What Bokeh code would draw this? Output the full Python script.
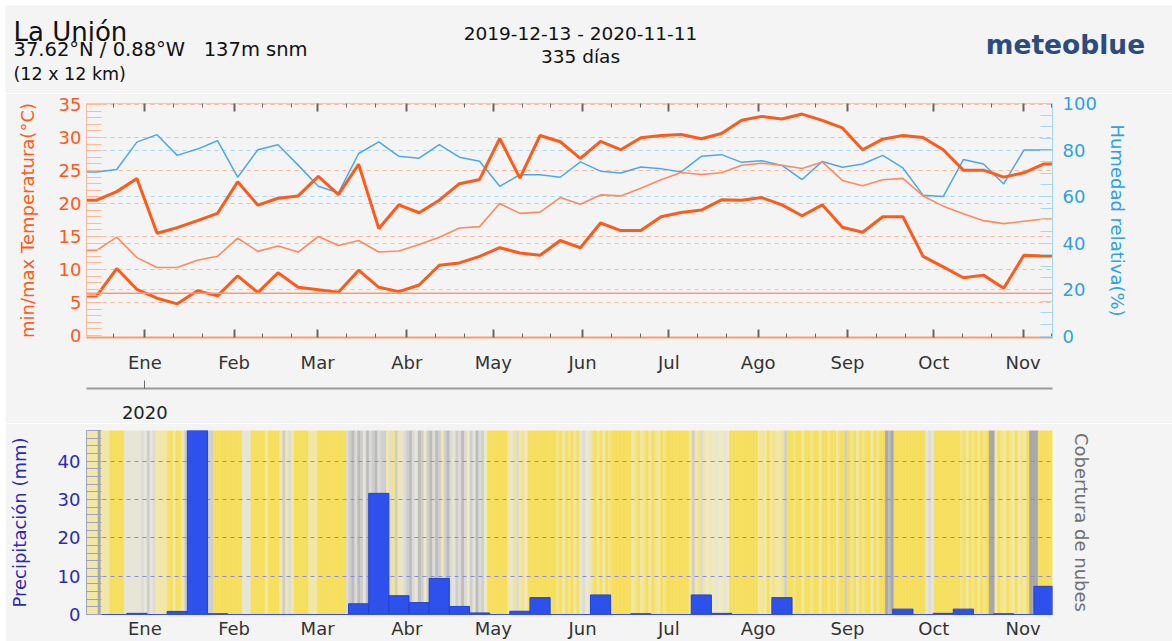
import numpy as np
import pandas as pd
from bokeh.plotting import figure
from bokeh.layouts import column
from bokeh.models import Range1d, LinearAxis, FixedTicker, Span, Grid, ColumnDataSource
from bokeh.embed import file_html
from bokeh.resources import INLINE
from bokeh.core.properties import value

# ---------------- data ----------------
start_date = "2019-12-13"
end_date = "2020-11-11"
first_week_center = "2019-12-15 06:00"

temp_max = [20.5, 21.8, 23.8, 15.5, 16.35, 17.4, 18.5, 23.3, 19.75, 20.8,
            21.15, 24.1, 21.35, 25.95, 16.2, 19.8, 18.6, 20.5, 23.0, 23.65,
            29.85, 23.85, 30.3, 29.35, 26.85, 29.4, 28.15, 29.95, 30.3, 30.45,
            29.8, 30.6, 32.6, 33.2, 32.8, 33.55, 32.6, 31.45, 28.15, 29.75,
            30.3, 30.0, 28.15, 25.05, 25.05, 24.0, 24.65, 26.0]
temp_mean = [12.9, 14.9, 11.8, 10.3, 10.3, 11.4, 12.0, 14.75, 12.75, 13.55,
             12.65, 15.0, 13.65, 14.4, 12.65, 12.8, 13.8, 14.9, 16.3, 16.5,
             20.0, 18.5, 18.7, 20.9, 19.9, 21.3, 21.15, 22.3, 23.6, 24.7,
             24.4, 24.65, 25.8, 26.1, 25.8, 25.3, 26.3, 23.5, 22.7, 23.6,
             23.8, 21.15, 19.6, 18.45, 17.4, 16.95, 17.3, 17.65]
temp_min = [6.0, 10.15, 7.0, 5.65, 4.8, 6.8, 6.0, 9.05, 6.5, 9.5,
            7.3, 6.95, 6.55, 9.9, 7.3, 6.65, 7.65, 10.65, 11.0, 12.0,
            13.3, 12.5, 12.15, 14.4, 13.3, 17.05, 15.9, 15.9, 18.0, 18.65,
            19.0, 20.55, 20.5, 20.9, 19.8, 18.15, 19.8, 16.4, 15.65, 18.0,
            18.0, 12.0, 10.4, 8.75, 9.15, 7.15, 12.15, 12.05]
humidity = [70.6, 71.6, 83.4, 86.6, 77.7, 80.4, 84.0, 68.3, 80.1, 82.3,
            73.5, 64.4, 61.6, 78.5, 83.5, 77.3, 76.5, 82.3, 76.9, 75.2,
            64.4, 69.4, 69.4, 68.3, 74.9, 70.9, 70.1, 72.7, 72.0, 70.6,
            77.3, 78.0, 74.7, 75.4, 73.4, 67.3, 75.1, 72.6, 74.0, 77.7,
            72.3, 60.6, 60.0, 75.9, 74.0, 65.4, 80.0, 80.0]
precip = [0, 0, 0.3, 0, 0.8, 49.0, 0.2, 0, 0, 0,
          0, 0, 0, 2.8, 31.6, 4.9, 3.1, 9.4, 2.1, 0.4,
          0, 0.85, 4.4, 0, 0, 5.1, 0, 0.2, 0, 0,
          5.1, 0.3, 0, 0, 4.4, 0, 0, 0, 0, 0,
          1.4, 0, 0.3, 1.4, 0, 0.2, 0, 7.35]
cloud_cover = [30, 30, 30, 30, 90, 30, 30, 30, 5, 5,
               5, 5, 5, 50, 50, 50, 50, 50, 50, 60,
               50, 70, 50, 60, 30, 30, 30, 30, 10, 5,
               30, 5, 10, 30, 70, 70, 80, 70, 70, 60,
               70, 70, 70, 70, 5, 5, 5, 5, 5, 5,
               5, 5, 5, 5, 50, 50, 50, 5, 5, 5,
               5, 5, 30, 5, 5, 5, 5, 30, 70, 30,
               60, 30, 5, 5, 5, 5, 5, 30, 30, 30,
               5, 5, 5, 5, 5, 5, 5, 5, 5, 5,
               60, 70, 80, 60, 80, 70, 50, 80, 60, 70,
               80, 60, 70, 70, 30, 60, 20, 70, 30, 50,
               60, 70, 80, 60, 50, 80, 70, 40, 70, 80,
               60, 80, 70, 30, 70, 80, 60, 50, 70, 60,
               80, 60, 40, 70, 50, 80, 60, 70, 40, 5,
               5, 5, 5, 5, 5, 5, 30, 50, 20, 60,
               30, 20, 40, 5, 5, 5, 5, 5, 5, 5,
               5, 5, 5, 20, 5, 30, 5, 20, 5, 30,
               5, 50, 60, 40, 50, 20, 5, 30, 5, 30,
               5, 20, 5, 5, 5, 5, 5, 5, 5, 30,
               20, 5, 30, 20, 5, 30, 5, 20, 30, 5,
               20, 5, 5, 5, 5, 5, 5, 5, 5, 30,
               70, 30, 20, 60, 30, 40, 30, 40, 50, 40,
               40, 50, 40, 5, 5, 5, 5, 5, 5, 5,
               5, 5, 5, 30, 20, 30, 5, 30, 20, 30,
               30, 20, 70, 5, 5, 20, 5, 5, 30, 5,
               5, 20, 5, 5, 30, 5, 5, 20, 5, 5,
               30, 5, 5, 70, 5, 20, 5, 30, 5, 20,
               5, 5, 30, 5, 20, 5, 5, 90, 80, 90,
               5, 5, 5, 5, 5, 5, 5, 5, 5, 5,
               5, 50, 60, 50, 5, 5, 5, 5, 5, 5,
               5, 5, 5, 20, 5, 30, 5, 20, 5, 30,
               5, 20, 5, 90, 90, 30, 5, 20, 30, 5,
               20, 30, 5, 30, 20, 30, 5, 90, 90, 90,
               5, 5, 5, 5, 5]
month_labels = ["Ene", "Feb", "Mar", "Abr", "May", "Jun", "Jul", "Ago", "Sep", "Oct", "Nov"]
temp_ticks = [0, 5, 10, 15, 20, 25, 30, 35]
temp_grid = [5, 10, 15, 20, 25, 30, 35]
hum_ticks = [0, 20, 40, 60, 80, 100]
hum_grid = [20, 40, 60, 80]
precip_ticks = [0, 10, 20, 30, 40]
precip_grid = [10, 20, 30, 40]
year_label = "2020"
ref_line_temp = 6.4

# ---------------- derived positions ----------------
t0 = pd.Timestamp(start_date)
DAY = pd.Timedelta(days=1)
week_dates = pd.date_range(first_week_center, periods=len(temp_max), freq="7D")
week_x = list(((week_dates - t0) / DAY).to_numpy())
month_starts = pd.date_range("2020-01-01", "2020-11-01", freq="MS")
month_x = [int((m - t0) / DAY) for m in month_starts]
minor_x = []
for m in pd.date_range("2019-12-01", "2020-11-01", freq="MS"):
    for dd in (10, 20):
        v = int((m + dd * DAY - t0) / DAY)
        if -1 <= v <= 334:
            minor_x.append(v)
year_x = int((pd.Timestamp("2020-01-01") - t0) / DAY)

X_START, X_END = -1.25, 334.2
BG = "#f4f4f4"
W = 1167
FONT = "DejaVu Sans"
MBL, MBR = 78, 120

def ext(vals):
    return [X_START] + week_x + [X_END], [vals[0]] + list(vals) + [vals[-1]]

def style_fig(f):
    f.background_fill_color = BG
    f.border_fill_color = BG
    f.outline_line_color = None

# ---------------- header ----------------
h = figure(width=W, height=88, x_range=Range1d(5, 1172), y_range=Range1d(93, 5),
           output_backend="svg", toolbar_location=None,
           min_border_left=0, min_border_right=0, min_border_top=0, min_border_bottom=0)
h.title = None
h.frame_align = False
h.axis.visible = False
h.grid.visible = False
style_fig(h)
def htext(x, y, t, size, align="left", color="#111111", style="normal"):
    h.text(x=[x], y=[y], text=[t], text_font=value(FONT), text_font_size=size,
           text_align=align, text_baseline="alphabetic", text_color=color,
           text_font_style=style)
htext(13, 31, "La Unión", "26px")
htext(13, 48.5, "37.62°N / 0.88°W\u00a0\u00a0 137m snm", "19.5px")
htext(13, 73, "(12 x 12 km)", "17.5px")
htext(580, 32.5, "2019-12-13 - 2020-11-11", "18.5px", "center")
htext(580, 55.5, "335 días", "18.5px", "center")
htext(1065, 44, "meteoblue", "26.5px", "center", "#2b4c7e", "bold")

# ---------------- top chart ----------------
ORANGE = "#ff5a1a"
ORANGE_L = "#ff8a5c"
BLUE = "#4aa8ee"
BLUE_T = "#2fa0e6"
xr = Range1d(X_START, X_END)
p = figure(width=W, height=330, x_range=xr, y_range=Range1d(-0.3, 35.15),
           output_backend="svg", toolbar_location=None,
           min_border_left=MBL, min_border_right=MBR, min_border_top=10, min_border_bottom=86)
style_fig(p)
p.extra_y_ranges = {"hum": Range1d(-0.6, 100.0)}
p.xgrid.visible = False
p.ygrid.ticker = FixedTicker(ticks=temp_grid)
p.ygrid.grid_line_color = "#ffb596"
p.ygrid.grid_line_dash = "4 4"
p.add_layout(Grid(dimension=1, y_range_name="hum", ticker=FixedTicker(ticks=hum_grid),
                  grid_line_color="#a6d6f6", grid_line_dash="4 4"))

ya = p.yaxis[0]
ya.ticker = FixedTicker(ticks=temp_ticks, minor_ticks=list(range(0, 36)))
ya.major_tick_in = 15; ya.major_tick_out = 0
ya.minor_tick_in = 15; ya.minor_tick_out = 0
ya.major_tick_line_color = "#ffb898"; ya.minor_tick_line_color = "#ffb898"
ya.axis_line_color = "#ffb898"
ya.major_label_text_color = ORANGE
ya.major_label_text_font = FONT
ya.major_label_text_font_size = "18px"
ya.major_label_standoff = 5
ya.axis_label = "min/max Temperatura(°C)"
ya.axis_label_text_color = ORANGE
ya.axis_label_text_font = FONT
ya.axis_label_text_font_size = "18px"
ya.axis_label_text_font_style = "normal"
ya.axis_label_standoff = 18

ra = LinearAxis(y_range_name="hum", ticker=FixedTicker(ticks=hum_ticks, minor_ticks=list(range(0, 101, 5))))
ra.major_tick_in = 12; ra.major_tick_out = 0
ra.minor_tick_in = 12; ra.minor_tick_out = 0
ra.major_tick_line_color = "#a6d6f6"; ra.minor_tick_line_color = "#a6d6f6"
ra.axis_line_color = "#a6d6f6"
ra.major_label_text_color = BLUE_T
ra.major_label_text_font = FONT
ra.major_label_text_font_size = "18px"
ra.major_label_standoff = 10
ra.axis_label = "Humedad relativa(%)"
ra.axis_label_text_color = BLUE_T
ra.axis_label_text_font = FONT
ra.axis_label_text_font_size = "18px"
ra.axis_label_text_font_style = "normal"
ra.axis_label_standoff = 7
p.add_layout(ra, "right")

xa = p.xaxis[0]
xa.ticker = FixedTicker(ticks=month_x, minor_ticks=minor_x)
xa.major_label_overrides = {mx: lab for mx, lab in zip(month_x, month_labels)}
xa.major_tick_in = 8; xa.major_tick_out = 0
xa.minor_tick_in = 4; xa.minor_tick_out = 0
xa.major_tick_line_color = "#666666"; xa.minor_tick_line_color = "#666666"
xa.major_tick_line_width = 2
xa.axis_line_color = "#ff9a70"
xa.axis_line_width = 2
xa.major_label_text_color = "#333333"
xa.major_label_text_font = FONT
xa.major_label_text_font_size = "18px"
xa.major_label_standoff = 14
xa.axis_label = " "
xa.axis_label_text_font_size = "9px"
xa.axis_label_standoff = 0

# top-edge ticks (inside), no labels
ta_minor = LinearAxis(ticker=FixedTicker(ticks=[], minor_ticks=minor_x))
ta_minor.minor_tick_in = 4; ta_minor.minor_tick_out = 0
ta_minor.minor_tick_line_color = "#666666"
ta_minor.axis_line_color = "#f0c8b0"
ta_minor.major_label_standoff = 0
p.add_layout(ta_minor, "above")
ta_major = LinearAxis(ticker=FixedTicker(ticks=[], minor_ticks=month_x))
ta_major.minor_tick_in = 8; ta_major.minor_tick_out = 0
ta_major.minor_tick_line_color = "#666666"
ta_major.minor_tick_line_width = 2
ta_major.axis_line_color = None
ta_major.major_label_standoff = 0
p.add_layout(ta_major, "above")

yr = LinearAxis(ticker=FixedTicker(ticks=[year_x], minor_ticks=[]))
yr.major_label_overrides = {year_x: year_label}
yr.major_tick_in = 8; yr.major_tick_out = 0
yr.major_tick_line_color = "#666666"
yr.axis_line_color = "#9a9a9a"
yr.axis_line_width = 2
yr.major_label_text_color = "#222222"
yr.major_label_text_font = FONT
yr.major_label_text_font_size = "18px"
yr.major_label_standoff = 17
p.add_layout(yr, "below")

p.add_layout(Span(location=ref_line_temp, dimension="width", line_color="#ff9a70", line_width=1.5))

hx, hy = ext(humidity)
p.line(hx, hy, y_range_name="hum", line_color=BLUE, line_width=1.5)
mx_, my_ = ext(temp_mean)
p.line(mx_, my_, line_color=ORANGE_L, line_width=1.6)
ax_, ay_ = ext(temp_max)
p.line(ax_, ay_, line_color=ORANGE, line_width=3)
nx_, ny_ = ext(temp_min)
p.line(nx_, ny_, line_color=ORANGE, line_width=3)

# ---------------- bottom chart ----------------
PMAX = 48.0
b = figure(width=W, height=218, x_range=xr, y_range=Range1d(0, PMAX),
           output_backend="svg", toolbar_location=None,
           min_border_left=MBL, min_border_right=MBR, min_border_top=7, min_border_bottom=24)
style_fig(b)
b.xgrid.visible = False
b.ygrid.ticker = FixedTicker(ticks=precip_grid)
b.ygrid.grid_line_color = "#8a8ad8"
b.ygrid.grid_line_dash = "4 4"
b.ygrid.level = "underlay"

anchors = [0, 25, 45, 65, 85, 100]
acol = np.array([(247, 221, 79), (243, 230, 150), (236, 234, 214),
                 (214, 214, 214), (180, 180, 180), (140, 140, 140)], dtype=float)
def ccol(c):
    r = int(round(np.interp(c, anchors, acol[:, 0])))
    g = int(round(np.interp(c, anchors, acol[:, 1])))
    bl = int(round(np.interp(c, anchors, acol[:, 2])))
    return "#%02x%02x%02x" % (r, g, bl)
n = len(cloud_cover)
sw = (X_END - X_START) / n
left = [X_START + i * sw for i in range(n)]
right = [l + sw for l in left]
csrc = ColumnDataSource(dict(left=left, right=right, top=[PMAX] * n, bottom=[0] * n,
                             color=[ccol(c) for c in cloud_cover]))
b.quad(left="left", right="right", top="top", bottom="bottom", fill_color="color",
       line_color="color", line_width=0.5, source=csrc, level="image")
b.vbar(x=week_x, width=7, top=precip, bottom=0, fill_color="#2e50ec",
       line_color="#2242d0", line_width=1)

ba = b.yaxis[0]
ba.ticker = FixedTicker(ticks=precip_ticks, minor_ticks=list(range(0, 49, 2)))
ba.major_tick_in = 15; ba.major_tick_out = 0
ba.minor_tick_in = 15; ba.minor_tick_out = 0
ba.major_tick_line_color = "#a0a0c8"; ba.minor_tick_line_color = "#a0a0c8"
ba.axis_line_color = "#a0a0c8"
ba.major_label_text_color = "#2a2ab8"
ba.major_label_text_font = FONT
ba.major_label_text_font_size = "18px"
ba.major_label_standoff = 6
ba.axis_label = "Precipitación (mm)"
ba.axis_label_text_color = "#2a2ab8"
ba.axis_label_text_font = FONT
ba.axis_label_text_font_size = "18px"
ba.axis_label_text_font_style = "normal"
ba.axis_label_standoff = 25

bra = LinearAxis(ticker=FixedTicker(ticks=[], minor_ticks=[]))
bra.axis_line_color = None
bra.major_label_standoff = 0
bra.axis_label = "Cobertura de nubes"
bra.axis_label_text_color = "#707070"
bra.axis_label_text_font = FONT
bra.axis_label_text_font_size = "18px"
bra.axis_label_text_font_style = "normal"
bra.axis_label_standoff = 18
b.add_layout(bra, "right")

bx = b.xaxis[0]
bx.ticker = FixedTicker(ticks=month_x, minor_ticks=[])
bx.major_label_overrides = {mx: lab for mx, lab in zip(month_x, month_labels)}
bx.major_tick_in = 0; bx.major_tick_out = 0
bx.axis_line_color = "#3050e0"
bx.major_label_text_color = "#333333"
bx.major_label_text_font = FONT
bx.major_label_text_font_size = "18px"
bx.major_label_standoff = 3

layout = column(h, p, b, spacing=0, margin=(5, 0, 0, 5))
open("out.html", "w").write(file_html(layout, INLINE))
